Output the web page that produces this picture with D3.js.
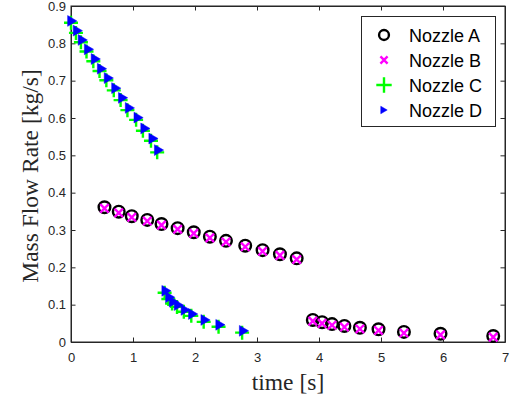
<!DOCTYPE html>
<html>
<head>
<meta charset="utf-8">
<script src="https://cdn.jsdelivr.net/npm/d3@7"></script>
<style>
  body { margin: 0; background: #fff; }
  svg { display: block; }
</style>
</head>
<body>
<svg id="chart" width="512" height="401"></svg>
<script>
// nozzle A / B share the same samples
var timeA = [0.54, 0.77, 0.98, 1.23, 1.46, 1.72, 1.98, 2.24, 2.50, 2.81, 3.09, 3.37, 3.64,
  3.90, 4.05, 4.21, 4.41, 4.66, 4.96, 5.37, 5.96, 6.81];
var flowA = [0.361, 0.349, 0.337, 0.327, 0.316, 0.305, 0.294, 0.282, 0.271, 0.258, 0.246, 0.235, 0.224,
  0.059, 0.053, 0.048, 0.043, 0.038, 0.034, 0.027, 0.022, 0.016];
var timeB = [0.54, 0.77, 0.98, 1.23, 1.46, 1.72, 1.98, 2.24, 2.50, 2.81, 3.09, 3.37, 3.64,
  3.90, 4.05, 4.21, 4.41, 4.66, 4.96, 5.37, 5.96, 6.81];
var flowB = [0.358, 0.346, 0.334, 0.324, 0.313, 0.302, 0.291, 0.279, 0.268, 0.255, 0.243, 0.232, 0.221,
  0.056, 0.050, 0.045, 0.040, 0.035, 0.031, 0.024, 0.019, 0.013];
var timeC = [0.00, 0.08, 0.16, 0.25, 0.36, 0.46, 0.57, 0.69, 0.80, 0.91, 1.05, 1.16, 1.29, 1.39,
  1.51, 1.57, 1.63, 1.71, 1.82, 1.94, 2.14, 2.38, 2.76];
var flowC = [0.855, 0.828, 0.803, 0.778, 0.752, 0.726, 0.701, 0.674, 0.648, 0.621, 0.595, 0.566, 0.539, 0.508,
  0.132, 0.115, 0.103, 0.094, 0.081, 0.070, 0.054, 0.041, 0.025];
var timeD = [0.02, 0.11, 0.19, 0.29, 0.40, 0.50, 0.61, 0.73, 0.84, 0.95, 1.09, 1.20, 1.33, 1.42,
  1.54, 1.60, 1.66, 1.74, 1.85, 1.97, 2.17, 2.41, 2.79];
var flowD = [0.860, 0.834, 0.809, 0.784, 0.758, 0.732, 0.707, 0.680, 0.654, 0.627, 0.601, 0.572, 0.545, 0.514,
  0.137, 0.120, 0.108, 0.099, 0.086, 0.075, 0.059, 0.046, 0.030];

var xTicks = [0, 1, 2, 3, 4, 5, 6, 7];
var yTicks = [0, 0.1, 0.2, 0.3, 0.4, 0.5, 0.6, 0.7, 0.8, 0.9];
var legendLabels = ['Nozzle A', 'Nozzle B', 'Nozzle C', 'Nozzle D'];

var margin = { left: 71, right: 7, top: 6, bottom: 59 };
var width = 512, height = 401;
var axisColor = '#262626';

var svg = d3.select('#chart');
var x = d3.scaleLinear().domain([0, 7]).range([margin.left, width - margin.right]);
var y = d3.scaleLinear().domain([0, 0.9]).range([height - margin.bottom, margin.top]);

function zip(xs, ys) {
  return xs.map(function(v, i) { return { t: v, f: ys[i] }; });
}

// marker painters, each draws at (0,0) inside a translated group
var markers = {
  circle: function(g, s) {
    g.append('circle').attr('r', 5.8 * s).attr('fill', 'none')
      .attr('stroke', '#000').attr('stroke-width', 2.4);
  },
  cross: function(g, s) {
    var h = 4.2 * s;
    g.append('path').attr('d', 'M' + -h + ',' + -h + 'L' + h + ',' + h + 'M' + -h + ',' + h + 'L' + h + ',' + -h)
      .attr('stroke', '#ff00ff').attr('stroke-width', 2.4).attr('fill', 'none');
  },
  plus: function(g, s) {
    var h = 7 * s;
    g.append('path').attr('d', 'M' + -h + ',0L' + h + ',0M0,' + -h + 'L0,' + h)
      .attr('stroke', '#00ff00').attr('stroke-width', 2.4).attr('fill', 'none');
  },
  triangle: function(g, s) {
    var w = 4.6 * s, hh = 5.4 * s;
    g.append('path').attr('d', 'M' + -w + ',' + -hh + 'L' + w + ',0L' + -w + ',' + hh + 'Z')
      .attr('fill', '#0000ff').attr('stroke', '#0000ff').attr('stroke-width', 0.5);
  }
};

var series = [
  { data: zip(timeA, flowA), marker: 'circle', legendScale: 0.85 },
  { data: zip(timeB, flowB), marker: 'cross', legendScale: 0.85 },
  { data: zip(timeC, flowC), marker: 'plus', legendScale: 1.1 },
  { data: zip(timeD, flowD), marker: 'triangle', legendScale: 0.7 }
];

// axes box
svg.append('rect')
  .attr('x', x(0)).attr('y', y(0.9))
  .attr('width', x(7) - x(0)).attr('height', y(0) - y(0.9))
  .attr('fill', '#fff').attr('stroke', axisColor).attr('stroke-width', 1);

var tickLen = 4.5;
var gAx = svg.append('g');
gAx.append('g').attr('transform', 'translate(0,' + y(0) + ')')
  .call(d3.axisBottom(x).tickValues(xTicks).tickSizeInner(-tickLen).tickSizeOuter(0).tickPadding(11)
    .tickFormat(d3.format('d')));
gAx.append('g').attr('transform', 'translate(0,' + y(0.9) + ')')
  .call(d3.axisTop(x).tickValues(xTicks).tickSizeInner(-tickLen).tickSizeOuter(0).tickFormat(''));
gAx.append('g').attr('transform', 'translate(' + x(0) + ',0)')
  .call(d3.axisLeft(y).tickValues(yTicks).tickSizeInner(-tickLen).tickSizeOuter(0).tickPadding(5)
    .tickFormat(function(d) { return d === 0 ? '0' : d3.format('.1f')(d); }));
gAx.append('g').attr('transform', 'translate(' + x(7) + ',0)')
  .call(d3.axisRight(y).tickValues(yTicks).tickSizeInner(-tickLen).tickSizeOuter(0).tickFormat(''));

gAx.selectAll('.domain').attr('stroke', axisColor);
gAx.selectAll('.tick line').attr('stroke', axisColor);
gAx.selectAll('.tick text')
  .attr('fill', axisColor)
  .style('font-family', '"Liberation Sans", Arial, sans-serif')
  .style('font-size', '13px');

// data markers
series.forEach(function(s) {
  var g = svg.append('g');
  g.selectAll('g').data(s.data).enter().append('g')
    .attr('transform', function(d) { return 'translate(' + x(d.t) + ',' + y(d.f) + ')'; })
    .each(function() { markers[s.marker](d3.select(this), 1); });
});

// axis labels
svg.append('text')
  .attr('x', (x(0) + x(7)) / 2).attr('y', 390)
  .attr('text-anchor', 'middle')
  .attr('fill', axisColor)
  .style('font-family', '"Liberation Serif", "Times New Roman", serif')
  .style('font-size', '23.5px')
  .text('time [s]');

svg.append('text')
  .attr('transform', 'translate(38,' + ((y(0) + y(0.9)) / 2 + 2) + ') rotate(-90)')
  .attr('text-anchor', 'middle')
  .attr('fill', axisColor)
  .style('font-family', '"Liberation Serif", "Times New Roman", serif')
  .style('font-size', '23.5px')
  .text('Mass Flow Rate [kg/s]');

// legend
var legend = svg.append('g');
legend.append('rect')
  .attr('x', 361.5).attr('y', 16.5).attr('width', 134).attr('height', 110)
  .attr('fill', '#fff').attr('stroke', axisColor).attr('stroke-width', 1);

legendLabels.forEach(function(label, i) {
  var cy = 35 + i * 25;
  var mg = legend.append('g').attr('transform', 'translate(384,' + cy + ')');
  markers[series[i].marker](mg, series[i].legendScale);
  legend.append('text')
    .attr('x', 409).attr('y', cy + 6.5)
    .attr('fill', '#000')
    .style('font-family', '"Liberation Sans", Arial, sans-serif')
    .style('font-size', '18px')
    .text(label);
});
</script>
</body>
</html>
